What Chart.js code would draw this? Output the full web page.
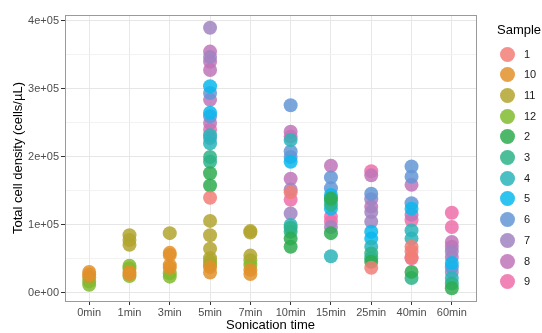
<!DOCTYPE html>
<html>
<head>
<meta charset="utf-8">
<script src="https://cdn.jsdelivr.net/npm/chart.js@4.4.1/dist/chart.umd.min.js"></script>
<style>
  body { margin: 0; background: #fff; font-family: "Liberation Sans", Arial, sans-serif; }
  .wrap { position: relative; width: 542px; height: 333px; }
  .legend { position: absolute; left: 497px; top: 0; }
  .legend__title { position: absolute; left: 0; top: 22px; font-size: 13px; color: #000; white-space: nowrap; }
  .legend__item { position: absolute; left: 3px; height: 15px; white-space: nowrap; }
  .legend__dot { position: absolute; left: 0; top: 0; width: 15px; height: 15px; border-radius: 50%; }
  .legend__label { position: absolute; left: 24px; top: 1px; font-size: 11px; line-height: 13px; color: #1a1a1a; }
</style>
</head>
<body>
<div class="wrap">
  <canvas id="chart"></canvas>
  <div class="legend" id="legend"></div>
</div>
<script>
const times = ['0min', '1min', '3min', '5min', '7min', '10min', '15min', '25min', '40min', '60min']
const samples = ['1', '10', '11', '12', '2', '3', '4', '5', '6', '7', '8', '9']
const colors = [
  'rgba(242,126,117,0.85)', 'rgba(226,145,44,0.85)', 'rgba(177,165,47,0.85)', 'rgba(129,187,47,0.85)',
  'rgba(46,171,80,0.85)', 'rgba(46,179,136,0.85)', 'rgba(44,180,186,0.85)', 'rgba(11,184,237,0.85)',
  'rgba(100,150,214,0.85)', 'rgba(160,132,194,0.85)', 'rgba(191,117,184,0.85)', 'rgba(239,111,170,0.85)',
]
const yTicks = [0, 100000, 200000, 300000, 400000]
const yGrid = [0, 50000, 100000, 150000, 200000, 250000, 300000, 350000, 400000]

// [time, total cell density] per sample
const sample1 = [['5min', 140000], ['10min', 148000], ['25min', 37000], ['40min', 68000], ['40min', 61000], ['40min', 52000]]
const sample10 = [['0min', 31000], ['0min', 27000], ['1min', 31000], ['1min', 28000], ['3min', 59000], ['3min', 56000], ['3min', 41000], ['3min', 37000], ['5min', 38000], ['5min', 30000], ['7min', 34000], ['7min', 28000]]
const sample11 = [['0min', 23000], ['1min', 85000], ['1min', 78000], ['1min', 71000], ['3min', 88000], ['5min', 106000], ['5min', 85000], ['5min', 65000], ['5min', 51000], ['7min', 91000], ['7min', 89000], ['7min', 55000]]
const sample12 = [['0min', 17000], ['0min', 12000], ['1min', 40000], ['1min', 36000], ['1min', 25000], ['3min', 29000], ['3min', 24000], ['5min', 47000], ['5min', 42000], ['7min', 48000], ['7min', 41000]]
const sample2 = [['5min', 176000], ['5min', 158000], ['10min', 80000], ['10min', 68000], ['15min', 88000], ['15min', 139000], ['25min', 46000], ['40min', 31000], ['60min', 7000]]
const sample3 = [['5min', 200000], ['5min', 193000], ['10min', 90000], ['10min', 96000], ['15min', 130000], ['25min', 51000], ['25min', 58000], ['40min', 22000], ['60min', 14000]]
const sample4 = [['5min', 232000], ['5min', 220000], ['10min', 225000], ['10min', 100000], ['15min', 136000], ['15min', 54000], ['25min', 68000], ['40min', 92000], ['40min', 80000], ['60min', 22000]]
const sample5 = [['5min', 304000], ['5min', 265000], ['10min', 193000], ['15min', 144000], ['15min', 124000], ['25min', 90000], ['25min', 80000], ['40min', 124000], ['60min', 44000]]
const sample6 = [['5min', 294000], ['5min', 260000], ['5min', 228000], ['10min', 276000], ['10min', 208000], ['10min', 200000], ['15min', 170000], ['15min', 154000], ['25min', 146000], ['40min', 186000], ['40min', 171000], ['40min', 132000], ['60min', 38000]]
const sample7 = [['5min', 390000], ['5min', 347000], ['10min', 152000], ['10min', 117000], ['15min', 97000], ['25min', 138000], ['25min', 119000], ['25min', 105000], ['60min', 61000], ['60min', 31000]]
const sample8 = [['5min', 355000], ['5min', 340000], ['5min', 328000], ['5min', 284000], ['5min', 250000], ['10min', 237000], ['10min', 168000], ['15min', 187000], ['25min', 173000], ['25min', 127000], ['40min', 159000], ['40min', 115000], ['60min', 75000], ['60min', 68000], ['60min', 53000]]
const sample9 = [['5min', 240000], ['10min', 230000], ['10min', 137000], ['15min', 112000], ['15min', 105000], ['25min', 179000], ['40min', 107000], ['40min', 51000], ['60min', 118000], ['60min', 97000]]

const sampleData = [sample1, sample10, sample11, sample12, sample2, sample3, sample4, sample5, sample6, sample7, sample8, sample9]

const sci = (v) => {
  if (v === 0) return '0e+00'
  const exp = Math.floor(Math.log10(Math.abs(v)))
  const mant = Math.round(v / Math.pow(10, exp))
  return mant + 'e+' + String(exp).padStart(2, '0')
}

const panelBorder = {
  id: 'panelBorder',
  afterDraw(chart) {
    const { ctx, chartArea: a } = chart
    ctx.save()
    ctx.strokeStyle = '#9a9a9a'
    ctx.lineWidth = 1
    ctx.strokeRect(Math.round(a.left) + 0.5, Math.round(a.top) + 0.5, Math.round(a.right - a.left), Math.round(a.bottom - a.top))
    ctx.restore()
  },
}

const font = { family: '"Liberation Sans", Arial, sans-serif' }

new Chart(document.getElementById('chart'), {
  type: 'scatter',
  data: {
    datasets: samples.map((name, i) => ({
      label: name,
      data: sampleData[i].map(([t, v]) => ({ x: times.indexOf(t), y: v })),
      backgroundColor: colors[i],
      borderWidth: 0,
      pointRadius: 7,
      pointHoverRadius: 7,
    })),
  },
  options: {
    responsive: true,
    maintainAspectRatio: false,
    animation: false,
    layout: { padding: { top: 15, right: 66, bottom: 0, left: 0 } },
    plugins: {
      legend: { display: false },
      tooltip: { enabled: false },
    },
    scales: {
      x: {
        type: 'linear',
        min: -0.6,
        max: 9.6,
        afterFit: (scale) => { scale.height = 32 },
        afterBuildTicks: (scale) => { scale.ticks = times.map((t, i) => ({ value: i })) },
        ticks: {
          autoSkip: false,
          maxRotation: 0,
          padding: 1,
          color: '#4d4d4d',
          font: { ...font, size: 11 },
          callback: (v) => times[v] ?? '',
        },
        grid: { color: '#e8e8e8', tickLength: 4, tickColor: '#333' },
        border: { display: false },
        title: {
          display: true,
          text: 'Sonication time',
          color: '#000',
          font: { ...font, size: 13 },
          padding: { top: 0, bottom: 0 },
        },
      },
      y: {
        min: -11800,
        max: 408800,
        afterFit: (scale) => { scale.width = 65 },
        afterBuildTicks: (scale) => { scale.ticks = yGrid.map((v) => ({ value: v })) },
        ticks: {
          autoSkip: false,
          padding: 2,
          color: '#4d4d4d',
          font: { ...font, size: 11 },
          callback: (v) => (yTicks.includes(v) ? sci(v) : ''),
        },
        grid: {
          color: (c) => (yTicks.includes(c.tick?.value) ? '#e6e6e6' : '#f2f2f2'),
          tickLength: 4,
          tickColor: (c) => (yTicks.includes(c.tick?.value) ? '#333' : 'rgba(0,0,0,0)'),
        },
        border: { display: false },
        title: {
          display: true,
          text: 'Total cell density (cells/µL)',
          color: '#000',
          font: { ...font, size: 13 },
          padding: { top: 11, bottom: 0 },
        },
      },
    },
  },
  plugins: [panelBorder],
})

// legend
const legend = document.getElementById('legend')
legend.innerHTML = '<span class="legend__title">Sample</span>'
samples.forEach((name, i) => {
  const item = document.createElement('div')
  item.className = 'legend__item'
  item.style.top = (54 - 7.5 + i * 20.7) + 'px'
  item.innerHTML = `<span class="legend__dot" style="background:${colors[i]}"></span><span class="legend__label">${name}</span>`
  legend.appendChild(item)
})
</script>
</body>
</html>
